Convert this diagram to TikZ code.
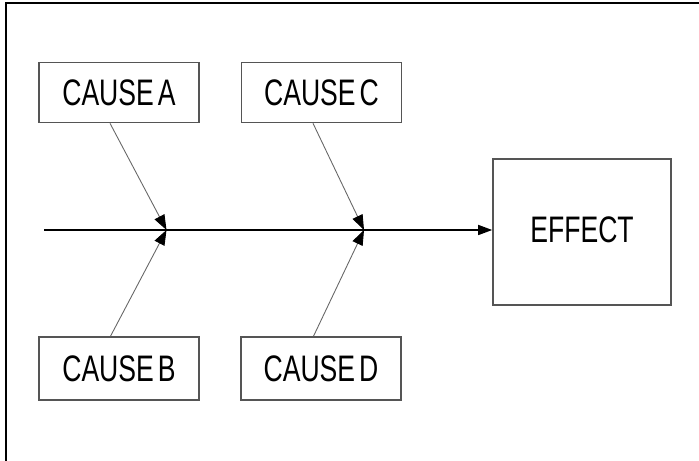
\documentclass[tikz,border=0pt]{standalone}
\usepackage{fontspec}
\setmainfont{Liberation Sans}[FakeStretch=0.72, WordSpace=0.55]
\usepackage{tikz}
\usetikzlibrary{arrows.meta,positioning,calc}
\definecolor{boxgray}{HTML}{555555}
\definecolor{bonegray}{HTML}{666666}

\begin{document}
\begin{tikzpicture}[
    cause/.style={draw=boxgray, line width=0.9pt, rectangle, minimum width=3.2cm,
                  minimum height=1.2cm, inner sep=0pt, font=\fontsize{21}{23}\selectfont},
    effect/.style={draw=boxgray, line width=0.9pt, rectangle, minimum width=3.56cm,
                   minimum height=2.92cm, inner sep=0pt, font=\fontsize{21}{23}\selectfont},
    spine/.style={-{Triangle[length=2.8mm,width=2mm]}, line width=0.8pt},
    bone/.style={-{Triangle[length=3mm,width=2.2mm,color=black]}, line width=0.5pt, draw=bonegray}
]
\useasboundingbox (0,0) rectangle (13.98,-9.22);

% --- frame ---
\draw[line width=1.2pt] (0.12,-9.22) -- (0.12,-0.06) -- (13.98,-0.06);

% --- boxes ---
\node[cause] (ca) at (2.38,-1.85) {CAUSE A};
\node[cause] (cc) at (6.43,-1.85) {CAUSE C};
\node[cause, minimum height=1.26cm] (cb) at (2.38,-7.37) {CAUSE B};
\node[cause, minimum height=1.26cm] (cd) at (6.42,-7.37) {CAUSE D};
\node[effect] (eff) at (11.64,-4.64) {\raisebox{0.1cm}{EFFECT}\hspace{0.1cm}};

% --- spine ---
\coordinate (tail) at (0.88,-4.6);
\coordinate (j1) at (3.33,-4.6);
\coordinate (j2) at (7.28,-4.6);
\draw[spine] (tail) -- (tail -| eff.west);

% --- bones ---
\draw[bone] ([xshift=-0.18cm]ca.south) -- (j1);
\draw[bone] ([xshift=-0.17cm]cb.north) -- (j1);
\draw[bone] ([xshift=-0.17cm]cc.south) -- (j2);
\draw[bone] ([xshift=-0.15cm]cd.north) -- (j2);

\end{tikzpicture}
\end{document}
